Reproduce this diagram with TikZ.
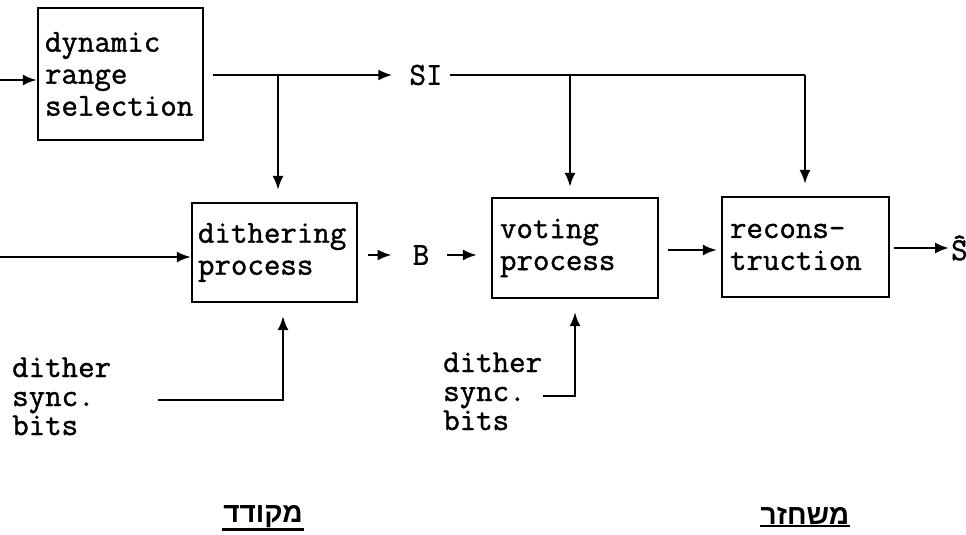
\documentclass[tikz,border=0pt]{standalone}
\usepackage{fontspec}
\newfontfamily\hebfont[Script=Hebrew]{Liberation Sans}
\newfontfamily\twfont[FakeBold=1.2]{Latin Modern Mono}
\TeXXeTstate=1
\usetikzlibrary{arrows.meta}
\newcommand\mylblfont{\twfont\fontsize{32}{29}\selectfont\lineskiplimit=-30pt\relax}
\begin{document}
\begin{tikzpicture}[x=1pt,y=-1pt,
  boxtext/.style={font=\twfont\fontsize{32}{32}\selectfont},
  blk/.style={draw, line width=2.2pt, boxtext, align=left, inner xsep=8pt, inner ysep=0pt, anchor=center},
  lbl/.style={font=\mylblfont, align=left, inner sep=0pt, anchor=base west},
  plain/.style={boxtext, inner sep=0pt},
  wire/.style={line width=2.4pt},
  arr/.style={wire, -{Latex[length=14pt,width=11pt]}},
  heb/.style={font=\hebfont\bfseries\fontsize{28}{30}\selectfont, inner sep=1pt}
]
\useasboundingbox (0,0) rectangle (966,535);
% blocks
\node[blk, minimum width=165pt, minimum height=132pt, text width=151pt, inner xsep=7pt] (dyn) at (120.5,74) {dynamic\\range\\selection};
\node[blk, minimum width=165pt, minimum height=99pt, text width=153pt, inner xsep=6pt] (dith) at (274.5,252.5) {dithering\\process};
\node[blk, minimum width=166pt, minimum height=100pt, text width=150pt] (vote) at (575,248) {voting\\process};
\node[blk, minimum width=167pt, minimum height=100pt, text width=151pt] (recon) at (805.5,247) {recons-\\truction};
% signal labels
\node[plain] (si) at (426,75) {SI};
\node[plain] (bb) at (421,255) {B};
\node[plain, anchor=west] (shat) at (951,248) {\^S};
% inputs
\coordinate (in1) at (0,80);
\coordinate (in2) at (0,257);
\draw[arr] (in1) -- (in1 -| dyn.west);
\draw[arr] (in2) -- (in2 -| dith.west);
% SI bus
\draw[arr, shorten <=9pt, shorten >=17pt] (dyn.east |- si) -- (si.west);
\coordinate (siR) at (805,75);
\coordinate (b1) at (278,75);
\coordinate (b2) at (570,75);
\draw[wire, shorten <=7pt] (si.east) -- (siR);
\draw[arr, shorten >=12pt] (siR) -- (siR |- recon.north);
\draw[arr, shorten >=12pt] (b1) -- (b1 |- dith.north);
\draw[arr, shorten >=10pt] (b2) -- (b2 |- vote.north);
% data path
\draw[arr, shorten <=10pt, shorten >=21pt] (dith.east |- bb) -- (bb.west);
\draw[arr, shorten <=18pt, shorten >=14pt] (bb.east) -- (bb -| vote.west);
\coordinate (vr) at (658,250);
\draw[arr, shorten <=10pt, shorten >=4pt] (vr) -- (vr -| recon.west);
\draw[arr, shorten <=4pt, shorten >=2pt] (recon.east |- shat) -- (shat.west);
% dither sync bits
\node[lbl] (ds1) at (12,435) {dither\\sync.\\bits};
\coordinate (d1) at (158,400);
\coordinate (d1c) at (283,400);
\draw[arr, shorten >=13pt] (d1) -- (d1c) -- (d1c |- dith.south);
\node[lbl] (ds2) at (443,430) {dither\\sync.\\bits};
\coordinate (d2) at (543,396);
\coordinate (d2c) at (575,396);
\draw[arr, shorten >=13pt] (d2) -- (d2c) -- (d2c |- vote.south);
% hebrew captions
\node[heb] (enc) at (263,517) {\beginR מקודד\endR};
\node[heb] (dec) at (805,516) {\beginR משחזר\endR};
\draw[line width=2.5pt] (enc.south west) -- (enc.south east);
\draw[line width=2.5pt] (dec.south west) -- (dec.south east);
\end{tikzpicture}
\end{document}
